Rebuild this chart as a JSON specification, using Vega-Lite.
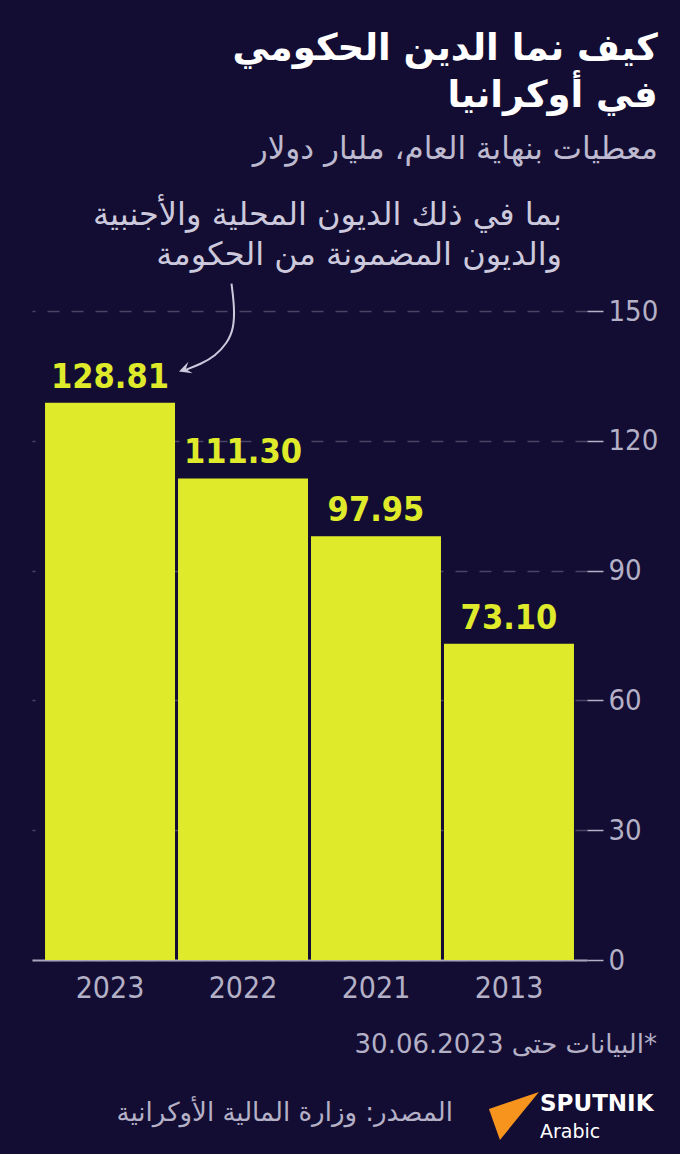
{
  "$schema": "https://vega.github.io/schema/vega-lite/v6.json",
  "width": 555,
  "height": 649,
  "autosize": {"type": "none"},
  "padding": {"left": 32, "top": 311, "right": 93, "bottom": 194},
  "background": "#130d33",
  "config": {"view": {"stroke": null}},
  "title": {
    "text": ["كيف نما الدين الحكومي", "في أوكرانيا"],
    "subtitle": "معطيات بنهاية العام، مليار دولار",
    "anchor": "end",
    "frame": "bounds",
    "orient": "top",
    "font": "DejaVu Sans",
    "fontSize": 37,
    "fontWeight": "bold",
    "color": "#ffffff",
    "lineHeight": 47,
    "subtitleFont": "DejaVu Sans",
    "subtitleFontSize": 31,
    "subtitleColor": "#bdb9cf",
    "subtitlePadding": 20,
    "offset": 33
  },
  "datasets": {
    "debt": [
      {"year": "2023", "value": 128.81},
      {"year": "2022", "value": 111.30},
      {"year": "2021", "value": 97.95},
      {"year": "2013", "value": 73.10}
    ],
    "arrow": [
      {"k": 1, "i": 0.906, "v": 156.3},
      {"k": 2, "i": 0.928, "v": 151.0},
      {"k": 3, "i": 0.924, "v": 146.0},
      {"k": 4, "i": 0.872, "v": 142.5},
      {"k": 5, "i": 0.782, "v": 139.6},
      {"k": 6, "i": 0.680, "v": 137.8},
      {"k": 7, "i": 0.560, "v": 136.4}
    ],
    "notes": [
      {"id": "annotation", "text": ["بما في ذلك الديون المحلية والأجنبية", "والديون المضمونة من الحكومة"]}
    ]
  },
  "layer": [
    {
      "data": {"name": "debt"},
      "encoding": {
        "x": {
          "field": "year",
          "type": "nominal",
          "sort": ["2023", "2022", "2021", "2013"],
          "scale": {"paddingInner": 0.0226, "paddingOuter": 0.098},
          "axis": {
            "title": null,
            "domain": true,
            "domainColor": "#a7a3bb",
            "domainWidth": 2,
            "ticks": false,
            "tickSize": 0,
            "grid": false,
            "labelAngle": 0,
            "labelFont": "DejaVu Sans Condensed",
            "labelFontSize": 30,
            "labelColor": "#b4b0c6",
            "labelPadding": 13
          }
        },
        "y": {
          "field": "value",
          "type": "quantitative",
          "scale": {"domain": [0, 150], "nice": false},
          "axis": {
            "orient": "right",
            "title": null,
            "domain": false,
            "ticks": true,
            "tickSize": 16,
            "tickColor": "#b4b0c6",
            "tickWidth": 1.5,
            "values": [0, 30, 60, 90, 120, 150],
            "labelFont": "DejaVu Sans Condensed",
            "labelFontSize": 29,
            "labelColor": "#b4b0c6",
            "labelPadding": 5,
            "labelOverlap": false,
            "grid": true,
            "gridColor": "#4a4566",
            "gridDash": [12, 12],
            "gridWidth": 1.5
          }
        }
      },
      "layer": [
        {"mark": {"type": "bar", "color": "#dfeb2a"}},
        {
          "mark": {
            "type": "text",
            "font": "DejaVu Sans Condensed",
            "fontWeight": "bold",
            "fontSize": 34,
            "color": "#dfeb2a",
            "baseline": "alphabetic",
            "dy": -15
          },
          "encoding": {
            "text": {"field": "value", "type": "quantitative", "format": ".2f"}
          }
        }
      ]
    },
    {
      "layer": [
        {
          "data": {"name": "notes"},
          "mark": {
            "type": "text",
            "font": "DejaVu Sans",
            "fontSize": 32,
            "color": "#cdc9dc",
            "align": "right",
            "baseline": "middle",
            "lineHeight": 40
          },
          "encoding": {
            "x": {"datum": 3.391, "type": "quantitative", "scale": {"domain": [-0.594, 3.579], "nice": false, "zero": false}, "axis": null},
            "y": {"datum": 172.2, "type": "quantitative"},
            "text": {"field": "text"}
          }
        },
        {
          "data": {"name": "arrow"},
          "mark": {"type": "line", "interpolate": "basis", "stroke": "#cdc9dc", "strokeWidth": 2},
          "encoding": {
            "x": {"field": "i", "type": "quantitative", "scale": {"domain": [-0.594, 3.579], "nice": false, "zero": false}, "axis": null},
            "y": {"field": "v", "type": "quantitative"},
            "order": {"field": "k"}
          }
        },
        {
          "data": {"values": [{"mark": "arrowhead"}]},
          "mark": {
            "type": "point",
            "shape": "M0,0L0.77,-0.81L0.56,-0.2L1.11,0.13Z",
            "size": 600,
            "filled": true,
            "color": "#cdc9dc",
            "opacity": 1
          },
          "encoding": {
            "x": {"datum": 0.511, "type": "quantitative", "scale": {"domain": [-0.594, 3.579], "nice": false, "zero": false}, "axis": null},
            "y": {"datum": 136.0, "type": "quantitative"}
          }
        },
        {
          "data": {"values": [{"text": "\u200f*البيانات حتى 30.06.2023"}]},
          "mark": {
            "type": "text",
            "font": "DejaVu Sans",
            "fontSize": 26,
            "color": "#b4b0c6",
            "align": "right",
            "baseline": "middle"
          },
          "encoding": {
            "x": {"datum": 4.105, "type": "quantitative", "scale": {"domain": [-0.594, 3.579], "nice": false, "zero": false}, "axis": null},
            "y": {"datum": -19.6, "type": "quantitative"},
            "text": {"field": "text"}
          }
        },
        {
          "data": {"values": [{"text": "المصدر: وزارة المالية الأوكرانية"}]},
          "mark": {
            "type": "text",
            "font": "DejaVu Sans",
            "fontSize": 26,
            "color": "#b4b0c6",
            "align": "right",
            "baseline": "middle"
          },
          "encoding": {
            "x": {"datum": 2.571, "type": "quantitative", "scale": {"domain": [-0.594, 3.579], "nice": false, "zero": false}, "axis": null},
            "y": {"datum": -35.4, "type": "quantitative"},
            "text": {"field": "text"}
          }
        },
        {
          "data": {"values": [{"logo": "sputnik"}]},
          "mark": {
            "type": "point",
            "shape": "M-0.8,-0.2L1.2,-0.88L-0.36,1.04Z",
            "size": 2500,
            "filled": true,
            "color": "#f7941d",
            "opacity": 1
          },
          "encoding": {
            "x": {"datum": 2.992, "type": "quantitative", "scale": {"domain": [-0.594, 3.579], "nice": false, "zero": false}, "axis": null},
            "y": {"datum": -35.6, "type": "quantitative"}
          }
        },
        {
          "data": {"values": [{"text": "SPUTNIK"}]},
          "mark": {
            "type": "text",
            "font": "DejaVu Sans",
            "fontWeight": "bold",
            "fontSize": 23,
            "color": "#ffffff",
            "align": "left",
            "baseline": "middle"
          },
          "encoding": {
            "x": {"datum": 3.226, "type": "quantitative", "scale": {"domain": [-0.594, 3.579], "nice": false, "zero": false}, "axis": null},
            "y": {"datum": -33.2, "type": "quantitative"},
            "text": {"field": "text"}
          }
        },
        {
          "data": {"values": [{"text": "Arabic"}]},
          "mark": {
            "type": "text",
            "font": "DejaVu Sans",
            "fontSize": 19,
            "color": "#ffffff",
            "align": "left",
            "baseline": "middle"
          },
          "encoding": {
            "x": {"datum": 3.226, "type": "quantitative", "scale": {"domain": [-0.594, 3.579], "nice": false, "zero": false}, "axis": null},
            "y": {"datum": -39.8, "type": "quantitative"},
            "text": {"field": "text"}
          }
        }
      ]
    }
  ],
  "resolve": {"scale": {"x": "independent"}}
}
